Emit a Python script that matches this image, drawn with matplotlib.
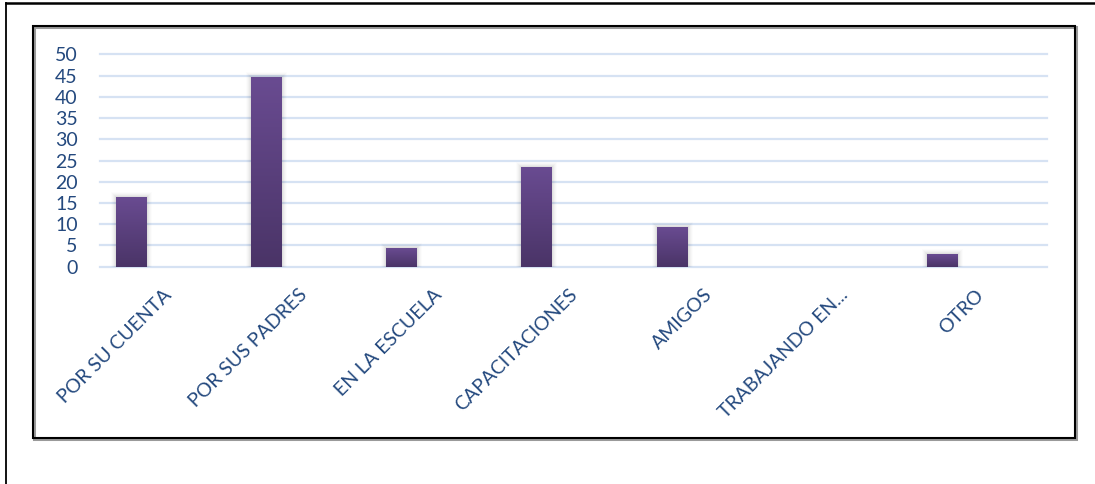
import numpy as np
import matplotlib.pyplot as plt
import matplotlib.transforms as mtransforms
from matplotlib.colors import LinearSegmentedColormap
from matplotlib.patches import Rectangle
from matplotlib.lines import Line2D

# Categories and percentages
categorias = ['POR SU CUENTA', 'POR SUS PADRES', 'EN LA ESCUELA', 'CAPACITACIONES',
              'AMIGOS', 'TRABAJANDO EN...', 'OTRO']
valores = [16.4, 44.6, 4.4, 23.5, 9.3, 0, 2.9]
yticks = list(range(0, 55, 5))

text_color = '#24497E'
grid_color = '#D6E2F3'
bar_top = '#694B91'
bar_bottom = '#4A3467'

plt.rcParams['font.family'] = ['Lato', 'DejaVu Sans']

fig = plt.figure(figsize=(10.95, 4.84), dpi=100)
W, H = 1095, 484

# page borders around the chart
fig.add_artist(Line2D([6 / W, 1], [1 - 3 / H, 1 - 3 / H], color='black', lw=1.8,
                      transform=fig.transFigure))
fig.add_artist(Line2D([6 / W, 6 / W], [0, 1 - 3 / H], color='black', lw=1.3,
                      transform=fig.transFigure))
# chart frame with a light shadow
fig.add_artist(Rectangle((34 / W, 1 - 439 / H), 1042 / W, 412 / H, fill=False,
                         edgecolor='#9a9a9a', lw=2.2, transform=fig.transFigure))
fig.add_artist(Rectangle((33 / W, 1 - 438 / H), 1042 / W, 412 / H, fill=False,
                         edgecolor='black', lw=1.5, transform=fig.transFigure))

ax = fig.add_axes([100 / W, 1 - 266.7 / H, 947 / W, 212.4 / H])
n = len(categorias)
x = np.arange(n)
ax.set_xlim(-0.5, n - 0.5)
ax.set_ylim(0, 50)

for y in yticks:
    ax.axhline(y, color=grid_color, lw=1.6, zorder=1, clip_on=False)

bar_w = 0.229
offset = -0.27
px_x = n / 947.0
px_y = 50 / 212.4
cmap = LinearSegmentedColormap.from_list('barra', [bar_bottom, bar_top])
grad = np.linspace(0, 1, 100).reshape(-1, 1)

for xi, v in zip(x, valores):
    if v <= 0:
        continue
    x0 = xi + offset - bar_w / 2
    # soft shadow
    for k, a in zip([5, 4, 3, 2, 1], [0.012, 0.018, 0.025, 0.032, 0.04]):
        ax.add_patch(Rectangle((x0 - k * px_x, 0), bar_w + 2 * k * px_x, v + k * px_y,
                               facecolor='black', edgecolor='none', alpha=a, zorder=2))
    ax.imshow(grad, extent=[x0, x0 + bar_w, 0, v], origin='lower', cmap=cmap,
              aspect='auto', zorder=3, interpolation='bilinear')

ax.set_xlim(-0.5, n - 0.5)
ax.set_ylim(0, 50)

for s in ax.spines.values():
    s.set_visible(False)

ax.set_yticks(yticks)
ax.set_yticklabels([str(t) for t in yticks], fontsize=14, color=text_color)
ax.tick_params(axis='y', length=0, pad=16)
ax.set_xticks(x)
ax.set_xticklabels(categorias, rotation=45, ha='right', va='top', rotation_mode='anchor',
                   fontsize=14, color=text_color)
ax.tick_params(axis='x', length=0, pad=14)
shift = mtransforms.ScaledTranslation(-5 / 100, 0, fig.dpi_scale_trans)
for lbl in ax.get_xticklabels():
    lbl.set_transform(lbl.get_transform() + shift)

fig.savefig('out.png', dpi=100)
